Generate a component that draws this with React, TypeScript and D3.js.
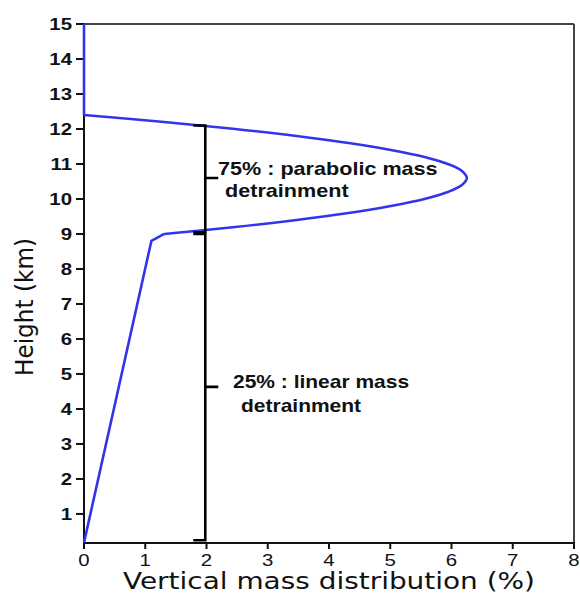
import React from "react";
import * as d3 from "d3";

// ---- data ----
const xTicks = [0, 1, 2, 3, 4, 5, 6, 7, 8];
const yTicks = [1, 2, 3, 4, 5, 6, 7, 8, 9, 10, 11, 12, 13, 14, 15];

// linear detrainment segment (x = %, h = km)
const linearX = [0, 1.1, 1.31];
const linearH = [0.18, 8.8, 9.0];

// parabolic detrainment segment
const parabolaH = [9.0, 9.2, 9.4, 9.6, 9.8, 10.0, 10.2, 10.4, 10.6, 10.8, 11.0, 11.2, 11.4, 11.6, 11.8, 12.0, 12.2, 12.4];
const parabolaX = [1.31, 2.47, 3.47, 4.32, 5.01, 5.56, 5.94, 6.17, 6.25, 6.17, 5.94, 5.56, 5.01, 4.32, 3.47, 2.47, 1.31, 0];

// zero above the detrainment layer
const topX = [0, 0];
const topH = [12.4, 15];

// braces: [top, middle, bottom] heights
const braceUpper = [12.1, 10.6, 9.05];
const braceLower = [9.0, 4.63, 0.25];
const braceX = 1.98;

const annotUpper = ["75% : parabolic mass", "detrainment"];
const annotLower = ["25% : linear mass", "detrainment"];

const xTitle = "Vertical mass distribution (%)";
const yTitle = "Height (km)";

export default function App() {
  const W = 580, H = 593;
  const left = 84, right = 574, top = 24, bottom = 543;
  const x = d3.scaleLinear().domain([0, 8]).range([left, right]);
  const y = d3.scaleLinear().domain([0.17, 15]).range([bottom, top]);

  const lineLin = d3.line<[number, number]>().x(d => x(d[0])).y(d => y(d[1])).curve(d3.curveLinear);
  const lineCurve = d3.line<[number, number]>().x(d => x(d[0])).y(d => y(d[1])).curve(d3.curveCatmullRom);

  const linPts = linearX.map((v, i) => [v, linearH[i]] as [number, number]);
  const parPts = parabolaX.map((v, i) => [v, parabolaH[i]] as [number, number]);
  const topPts = topX.map((v, i) => [v, topH[i]] as [number, number]);

  const blue = "#3035ec";
  const tickFont = "'Liberation Sans', Arial, sans-serif";
  const annFont = "'Liberation Sans', Arial, sans-serif";

  const brace = (b: number[]) => {
    const bx = x(braceX);
    const t = y(b[0]), m = y(b[1]), bt = y(b[2]);
    return `M${bx - 12},${t} L${bx},${t} L${bx},${m} L${bx + 13},${m} M${bx},${m} L${bx},${bt} L${bx - 12},${bt}`;
  };

  return (
    <svg width={W} height={H} style={{ position: "absolute", left: 0, top: 0, background: "#fff" }}>
      {/* frame */}
      <line x1={left} y1={top} x2={right} y2={top} stroke="#444" strokeWidth={2} />
      <line x1={right} y1={top} x2={right} y2={bottom} stroke="#444" strokeWidth={2} />
      <line x1={left} y1={top} x2={left} y2={bottom + 1} stroke="#111" strokeWidth={2} />
      <line x1={left - 1} y1={bottom} x2={right + 1} y2={bottom} stroke="#111" strokeWidth={2} />

      {/* y ticks */}
      {yTicks.map(t => (
        <g key={"y" + t}>
          <line x1={left - 8} x2={left} y1={y(t)} y2={y(t)} stroke="#111" strokeWidth={2} />
          <text
            transform={`translate(72,${y(t) + 6.2}) scale(1.2,1)`}
            textAnchor="end"
            fontFamily={tickFont}
            fontWeight="bold"
            fontSize={17}
            fill="#111"
          >
            {t}
          </text>
        </g>
      ))}

      {/* x ticks */}
      {xTicks.map(t => (
        <g key={"x" + t}>
          <line x1={x(t)} x2={x(t)} y1={bottom} y2={bottom + 6} stroke="#111" strokeWidth={2} />
          <text
            transform={`translate(${x(t)},566) scale(1.2,1)`}
            textAnchor="middle"
            fontFamily={tickFont}
            fontSize={17}
            fill="#111"
          >
            {t}
          </text>
        </g>
      ))}

      {/* axis titles */}
      <text
        x={123}
        y={589}
        textLength={412}
        lengthAdjust="spacingAndGlyphs"
        fontFamily="'DejaVu Sans', sans-serif"
        fontSize={23.5}
        fill="#111"
      >
        {xTitle}
      </text>
      <text
        transform={`translate(33,307) rotate(-90) scale(1,1.2)`}
        x={-69}
        textLength={138}
        lengthAdjust="spacingAndGlyphs"
        fontFamily="'DejaVu Sans', sans-serif"
        fontSize={20.5}
        fill="#111"
      >
        {yTitle}
      </text>

      {/* profile */}
      <path d={lineLin(linPts) || ""} fill="none" stroke={blue} strokeWidth={2.6} strokeLinejoin="round" />
      <path d={lineCurve(parPts) || ""} fill="none" stroke={blue} strokeWidth={2.6} strokeLinejoin="round" />
      <path d={lineLin(topPts) || ""} fill="none" stroke={blue} strokeWidth={2.6} strokeLinejoin="round" />

      {/* braces */}
      <path d={brace(braceUpper)} fill="none" stroke="#000" strokeWidth={2.6} />
      <path d={brace(braceLower)} fill="none" stroke="#000" strokeWidth={2.6} />

      {/* annotations */}
      <text transform={`translate(218,175) scale(1.2,1)`} fontFamily={annFont} fontWeight="bold" fontSize={18} fill="#111">
        {annotUpper[0]}
      </text>
      <text transform={`translate(225,197) scale(1.2,1)`} fontFamily={annFont} fontWeight="bold" fontSize={18} fill="#111">
        {annotUpper[1]}
      </text>
      <text transform={`translate(233,388) scale(1.2,1)`} fontFamily={annFont} fontWeight="bold" fontSize={17.5} fill="#111">
        {annotLower[0]}
      </text>
      <text transform={`translate(241,412) scale(1.2,1)`} fontFamily={annFont} fontWeight="bold" fontSize={17.5} fill="#111">
        {annotLower[1]}
      </text>
    </svg>
  );
}
